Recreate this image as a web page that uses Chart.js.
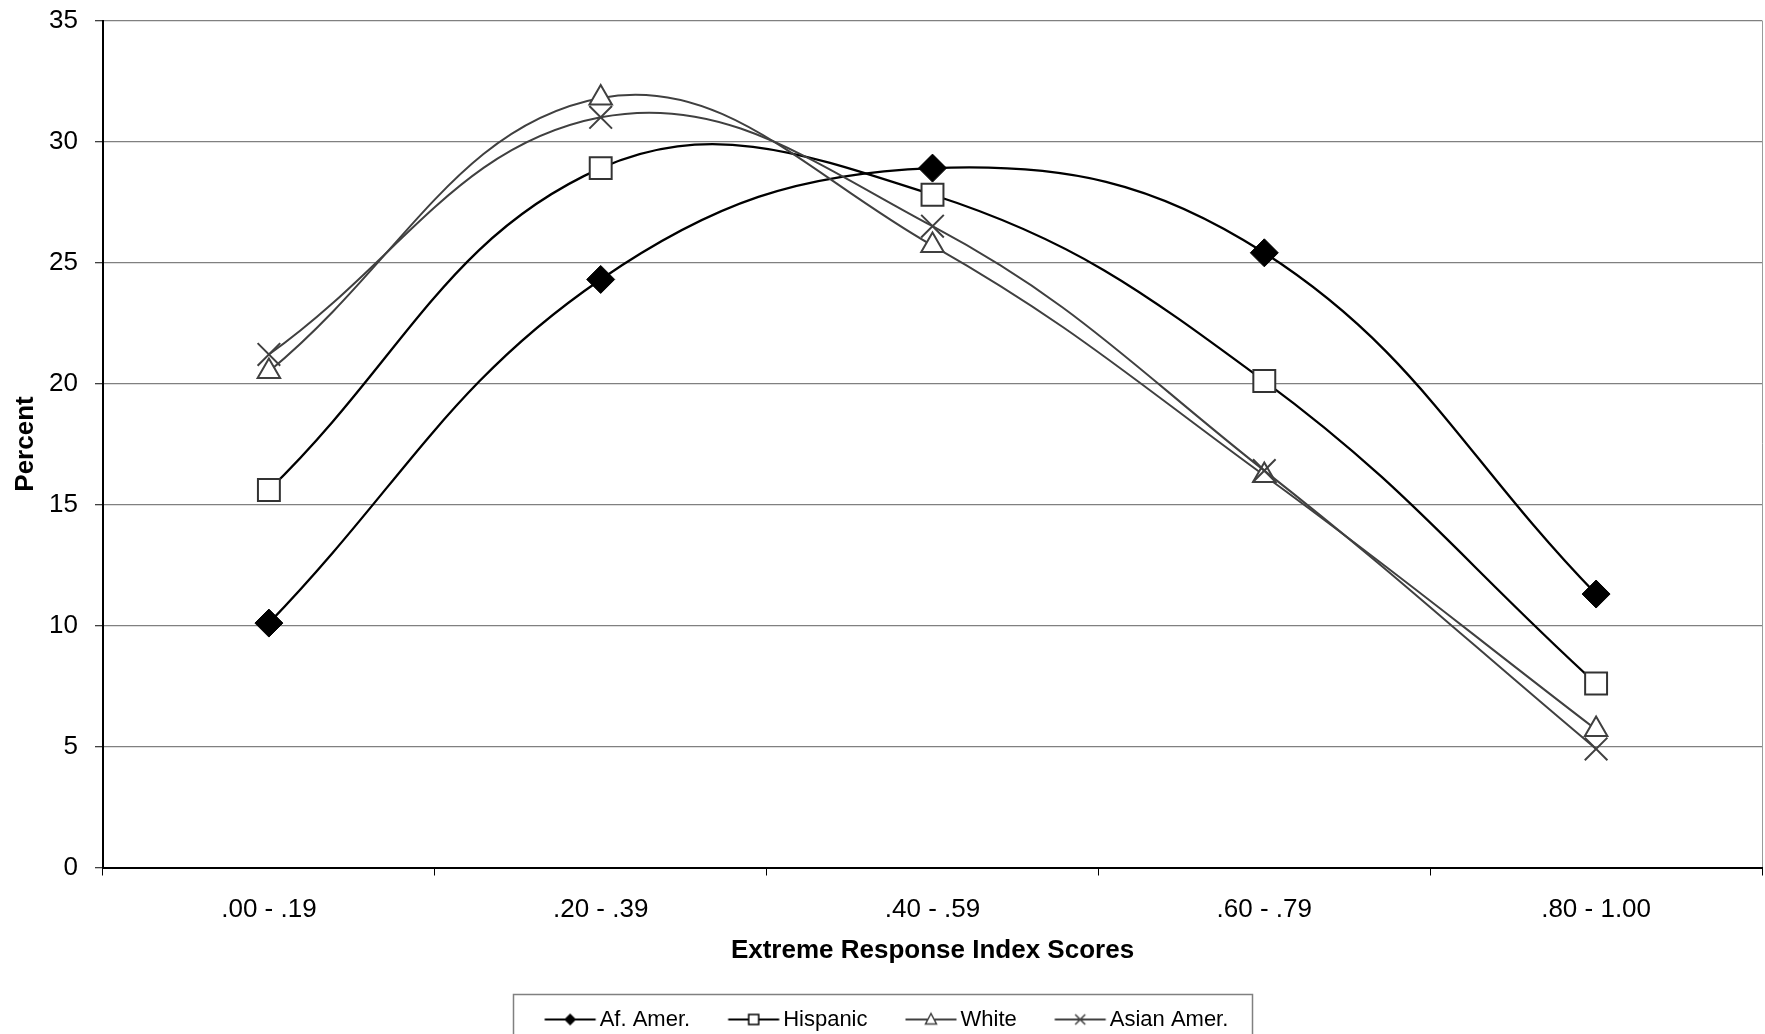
<!DOCTYPE html>
<html>
<head>
<meta charset="utf-8">
<script src="https://cdn.jsdelivr.net/npm/chart.js@4/dist/chart.umd.min.js"></script>
<style>
  body { margin: 0; background: #fff; }
</style>
</head>
<body>
<canvas id="chart-0" width="1765" height="1034"></canvas>
<script>
var categories = [".00 - .19", ".20 - .39", ".40 - .59", ".60 - .79", ".80 - 1.00"];
var seriesNames = ["Af. Amer.", "Hispanic", "White", "Asian Amer."];
var afAmer = [10.1, 24.3, 28.9, 25.4, 11.3];
var hispanic = [15.6, 28.9, 27.8, 20.1, 7.6];
var white = [20.5, 31.8, 25.7, 16.2, 5.7];
var asianAmer = [21.2, 31.0, 26.5, 16.4, 4.9];
var yMin = 0, yMax = 35, yStep = 5;

Chart.defaults.font.family = "'Liberation Sans', Arial, sans-serif";
Chart.defaults.color = "#000";

// little line+marker pictures for the legend
function legendIcon(kind, color) {
  var c = document.createElement("canvas");
  c.width = 74; c.height = 24;
  var g = c.getContext("2d");
  var cx = 46, cy = 12;
  g.strokeStyle = color;
  g.lineWidth = 2;
  g.beginPath(); g.moveTo(20.5, cy); g.lineTo(71.5, cy); g.stroke();
  g.lineWidth = 1.5;
  g.beginPath();
  if (kind == "diamond") {
    g.moveTo(cx - 6, cy); g.lineTo(cx, cy - 6); g.lineTo(cx + 6, cy); g.lineTo(cx, cy + 6); g.closePath();
    g.fillStyle = "#000"; g.fill();
  } else if (kind == "square") {
    g.rect(cx - 5, cy - 5, 10, 10);
    g.fillStyle = "#fff"; g.fill(); g.stroke();
  } else if (kind == "triangle") {
    g.moveTo(cx, cy - 6); g.lineTo(cx + 5.5, cy + 4.5); g.lineTo(cx - 5.5, cy + 4.5); g.closePath();
    g.fillStyle = "#fff"; g.fill(); g.stroke();
  } else {
    g.moveTo(cx - 5, cy - 5); g.lineTo(cx + 5, cy + 5);
    g.moveTo(cx + 5, cy - 5); g.lineTo(cx - 5, cy + 5);
    g.stroke();
  }
  return c;
}

var legendBorder = {
  id: "legendBorder",
  afterDraw: function (chart) {
    var lg = chart.legend;
    if (!lg || !lg.legendHitBoxes || !lg.legendHitBoxes.length) return;
    var boxes = lg.legendHitBoxes;
    var first = boxes[0], last = boxes[boxes.length - 1];
    var left = first.left + 11 - 32;
    var right = last.left + last.width + 23;
    var ctx = chart.ctx;
    ctx.save();
    ctx.strokeStyle = "#808080";
    ctx.lineWidth = 1.5;
    ctx.strokeRect(Math.round(left) + 0.5, 994.5, Math.round(right - left), 80);
    ctx.restore();
  }
};

var ctx0 = document.getElementById("chart-0");
var myChart = new Chart(ctx0, {
  type: "line",
  data: {
    labels: categories,
    datasets: [
      { label: seriesNames[0], data: afAmer, order: 4,
        borderColor: "#000", borderWidth: 2.3,
        pointStyle: "rectRot", pointRadius: 14, pointBackgroundColor: "#000", pointBorderColor: "#000", pointBorderWidth: 1,
        legendIcon: legendIcon("diamond", "#000") },
      { label: seriesNames[1], data: hispanic, order: 3,
        borderColor: "#000", borderWidth: 2.3,
        pointStyle: "rect", pointRadius: 15.5, pointBackgroundColor: "#fff", pointBorderColor: "#333", pointBorderWidth: 2,
        legendIcon: legendIcon("square", "#000") },
      { label: seriesNames[2], data: white, order: 2,
        borderColor: "#404040", borderWidth: 2,
        pointStyle: "triangle", pointRadius: 13, pointBackgroundColor: "#fff", pointBorderColor: "#404040", pointBorderWidth: 2,
        legendIcon: legendIcon("triangle", "#404040") },
      { label: seriesNames[3], data: asianAmer, order: 1,
        borderColor: "#404040", borderWidth: 2,
        pointStyle: "crossRot", pointRadius: 16, pointBackgroundColor: "#fff", pointBorderColor: "#404040", pointBorderWidth: 2,
        legendIcon: legendIcon("x", "#404040") }
    ]
  },
  options: {
    responsive: false,
    animation: false,
    layout: { autoPadding: false, padding: { top: 20.5, right: 3, left: 0, bottom: -6.5 } },
    elements: { line: { tension: 0.4, fill: false } },
    plugins: {
      tooltip: { enabled: false },
      legend: {
        position: "bottom",
        labels: {
          usePointStyle: true,
          pointStyleWidth: 55,
          padding: 27,
          font: { size: 22 },
          color: "#000",
          sort: function (a, b) { return a.datasetIndex - b.datasetIndex; },
          generateLabels: function (chart) {
            return chart.data.datasets.map(function (ds, i) {
              return { text: ds.label, pointStyle: ds.legendIcon, datasetIndex: i,
                       fillStyle: "#000", strokeStyle: "#000", lineWidth: 0, fontColor: "#000" };
            });
          }
        }
      }
    },
    scales: {
      x: {
        offset: true,
        grid: {
          offset: true,
          drawOnChartArea: true,
          tickLength: 8,
          color: function (c) { return (c.index === undefined || c.index >= categories.length) ? "#9a9a9a" : "rgba(0,0,0,0)"; },
          tickColor: "#000"
        },
        border: { color: "#000", width: 2 },
        ticks: { font: { size: 26 }, padding: 19, color: "#000", maxRotation: 0 },
        title: { display: true, text: "Extreme Response Index Scores", font: { size: 26, weight: "bold" }, padding: { top: 0, bottom: 15.4 }, color: "#000" },
        afterFit: function (scale) { scale.height = 114; scale.paddingLeft = 0; scale.paddingRight = 0; }
      },
      y: {
        min: yMin, max: yMax,
        grid: { color: "#808080", lineWidth: 1.3, tickLength: 8, tickColor: "#404040" },
        border: { color: "#000", width: 2 },
        ticks: { stepSize: yStep, font: { size: 26 }, padding: 17, color: "#000" },
        title: { display: true, text: "Percent", font: { size: 26, weight: "bold" }, padding: { top: 10, bottom: 0 }, color: "#000" },
        afterFit: function (scale) { scale.width = 103; scale.paddingTop = 0; scale.paddingBottom = 0; }
      }
    }
  },
  plugins: [legendBorder]
});
</script>
</body>
</html>
